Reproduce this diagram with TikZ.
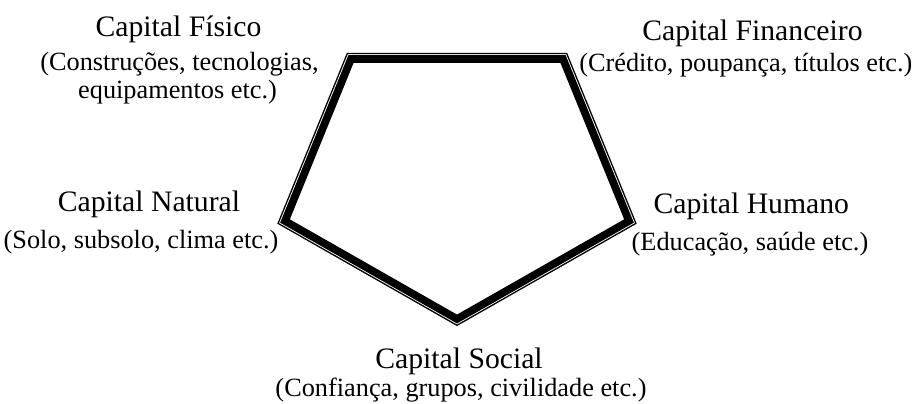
\documentclass[tikz,border=0pt]{standalone}
\usepackage{fontspec}
\setmainfont{Liberation Serif}
\usetikzlibrary{positioning}

\begin{document}
\begin{tikzpicture}[x=1bp, y=-1bp,
  titulo/.style={anchor=base, inner sep=0pt, font=\fontsize{29.8}{32}\selectfont},
  sub/.style={anchor=base, inner sep=0pt, font=\fontsize{26.4}{28}\selectfont}]
  \useasboundingbox (0,0) rectangle (921,403);
  % Pentagon (thick line)
  \coordinate (tl) at (351,59);
  \coordinate (tr) at (563,59);
  \coordinate (r) at (629,221);
  \coordinate (b) at (457,319);
  \coordinate (l) at (285,221);
  \draw[line width=7.7bp, line join=miter] (tl) -- (tr) -- (r) -- (b) -- (l) -- cycle;
  % Thin outer line
  \coordinate (tlo) at (347.3,53.5);
  \coordinate (tro) at (566.7,53.5);
  \coordinate (ro) at (635.9,223.4);
  \coordinate (bo) at (457,325.3);
  \coordinate (lo) at (278.1,223.4);
  \draw[line width=1.3bp, line join=miter] (tlo) -- (tro) -- (ro) -- (bo) -- (lo) -- cycle;
  % Labels
  \node[titulo] (fisico) at (178.5,36.7) {Capital Físico};
  \node[sub] (fisico1) at (179.5,70) {(Construções, tecnologias,};
  \node[sub] (fisico2) at (177.5,98) {equipamentos etc.)};
  \node[titulo] (financeiro) at (752.5,40.7) {Capital Financeiro};
  \node[sub] (financeiro1) at (745.8,71.7) {(Crédito, poupança, títulos etc.)};
  \node[titulo] (natural) at (149,211.7) {Capital Natural};
  \node[sub] (natural1) at (141,248) {(Solo, subsolo, clima etc.)};
  \node[titulo] (humano) at (751.3,213.3) {Capital Humano};
  \node[sub] (humano1) at (750,250) {(Educação, saúde etc.)};
  \node[titulo] (social) at (459,368) {Capital Social};
  \node[sub] (social1) at (461,396) {(Confiança, grupos, civilidade etc.)};
\end{tikzpicture}
\end{document}
